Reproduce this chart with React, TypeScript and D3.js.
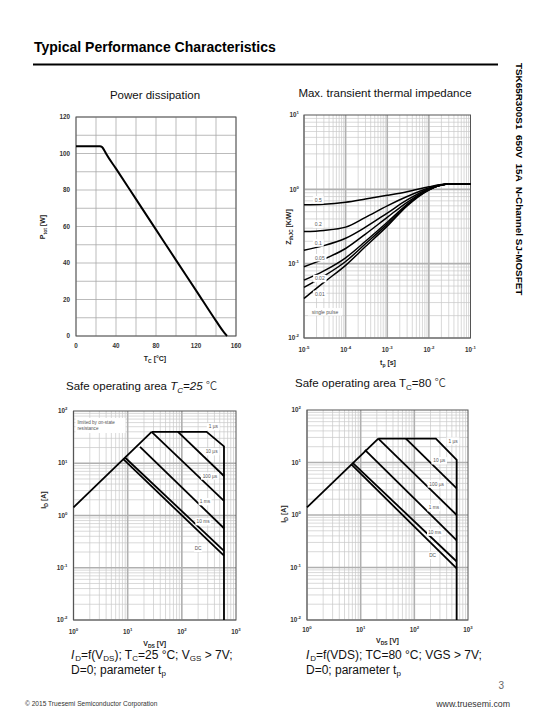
import React from "react";
import * as d3 from "d3";

const FONT = "'Liberation Sans', Arial, Helvetica, sans-serif";

// ---------- Power dissipation ----------
const tcValues = [0, 10, 20, 24, 26, 28, 30, 40, 60, 80, 100, 120, 140, 148, 151];
const ptotValues = [104, 104, 104, 104, 103.5, 102, 100, 91.7, 75, 58.3, 41.6, 25, 8.3, 2, 0];
const tcTicks = [0, 40, 80, 120, 160];
const ptotTicks = [0, 20, 40, 60, 80, 100, 120];

// ---------- Transient thermal impedance ----------
const tpValues = [1e-5, 3e-5, 1e-4, 3e-4, 1e-3, 3e-3, 1e-2, 2e-2, 3e-2, 1e-1];
const zthD05 = [0.62, 0.63, 0.67, 0.74, 0.83, 0.93, 1.08, 1.16, 1.18, 1.18];
const zthD02 = [0.27, 0.28, 0.31, 0.42, 0.6, 0.8, 1.04, 1.15, 1.18, 1.18];
const zthD01 = [0.152, 0.175, 0.22, 0.31, 0.48, 0.72, 1.02, 1.15, 1.18, 1.18];
const zthD005 = [0.091, 0.115, 0.16, 0.25, 0.42, 0.67, 1.0, 1.14, 1.18, 1.18];
const zthD002 = [0.06, 0.08, 0.12, 0.2, 0.36, 0.63, 0.99, 1.14, 1.18, 1.18];
const zthD001 = [0.048, 0.068, 0.107, 0.185, 0.34, 0.615, 0.985, 1.14, 1.18, 1.18];
const zthSingle = [0.034, 0.056, 0.095, 0.17, 0.32, 0.6, 0.98, 1.14, 1.18, 1.18];
const zthLabels = ["0.5", "0.2", "0.1", "0.05", "0.02", "0.01", "single pulse"];
const zthLabelT = [2.2e-5, 2.2e-5, 2.2e-5, 2.4e-5, 2.4e-5, 2.4e-5, 3.2e-5];
const zthLabelZ = [0.72, 0.34, 0.19, 0.12, 0.063, 0.0386, 0.0225];
const tpTicks = [1e-5, 1e-4, 1e-3, 1e-2, 1e-1];
const zthTicks = [1e-2, 1e-1, 1, 10];

// ---------- SOA Tc = 25 ----------
const soa25RdsV = [1, 27.7];
const soa25RdsI = [1.43, 40];
const soa25_1usV = [27.7, 287, 600, 600];
const soa25_1usI = [40, 40, 21, 0.01];
const soa25_10usV = [85, 600];
const soa25_10usI = [40, 5.7];
const soa25_100usV = [27.7, 600];
const soa25_100usI = [40, 1.9];
const soa25_1msV = [16.9, 600];
const soa25_1msI = [20.6, 0.57];
const soa25_10msV = [8.9, 600];
const soa25_10msI = [12.9, 0.21];
const soa25_DCV = [8.3, 600];
const soa25_DCI = [12, 0.17];
const soaLabels = ["1 µs", "10 µs", "100 µs", "1 ms", "10 ms", "DC"];
const soa25LabelV = [380, 355, 330, 268, 247, 200];
const soa25LabelI = [50, 16.6, 5.7, 1.84, 0.76, 0.235];

// ---------- SOA Tc = 80 ----------
const soa80RdsV = [1, 21.3];
const soa80RdsI = [1.4, 28.5];
const soa80_1usV = [21.3, 252, 615, 615];
const soa80_1usI = [28.5, 28.5, 11.2, 0.01];
const soa80_10usV = [69.6, 615];
const soa80_10usI = [28.5, 3.2];
const soa80_100usV = [21.3, 615];
const soa80_100usI = [28.5, 1.0];
const soa80_1msV = [12, 615];
const soa80_1msI = [17.4, 0.33];
const soa80_10msV = [7.1, 615];
const soa80_10msI = [9.8, 0.13];
const soa80_DCV = [6.7, 615];
const soa80_DCI = [9.2, 0.096];
const soa80LabelV = [525, 290, 260, 232, 240, 219];
const soa80LabelI = [25.7, 10.8, 3.9, 1.38, 0.47, 0.17];
const vdsTicks = [1, 10, 100, 1000];
const idTicks = [0.01, 0.1, 1, 10, 100];

type Sc = any;

function exp10(v: number) {
  return Math.round(Math.log10(v));
}

function Pow10({ x, y, v, anchor }: { x: number; y: number; v: number; anchor: string }) {
  return (
    <text x={x} y={y} fontSize={6.3} fontWeight="bold" fill="#333" textAnchor={anchor as any}>
      10<tspan dy={-2.8} fontSize={4.3}>{exp10(v)}</tspan>
    </text>
  );
}

function LogGrid({ x, y }: { x: Sc; y: Sc }) {
  const [xa, xb] = x.range();
  const [ya, yb] = y.range();
  const minor: any[] = [];
  const major: any[] = [];
  const xd = x.domain();
  const yd = y.domain();
  for (let e = exp10(xd[0]); e < exp10(xd[1]); e++) {
    for (let m = 1; m <= 9; m++) {
      const px = x(m * Math.pow(10, e));
      const el = <line key={`x${e}_${m}`} x1={px} x2={px} y1={ya} y2={yb} />;
      (m === 1 ? major : minor).push(el);
    }
  }
  for (let e = exp10(yd[0]); e < exp10(yd[1]); e++) {
    for (let m = 1; m <= 9; m++) {
      const py = y(m * Math.pow(10, e));
      const el = <line key={`y${e}_${m}`} x1={xa} x2={xb} y1={py} y2={py} />;
      (m === 1 ? major : minor).push(el);
    }
  }
  return (
    <g>
      <g stroke="#c9c9c9" strokeWidth={0.7}>{minor}</g>
      <g stroke="#b0b0b0" strokeWidth={1.6}>{major}</g>
    </g>
  );
}

function Frame({ x, y }: { x: Sc; y: Sc }) {
  const [xa, xb] = x.range();
  const [ya, yb] = y.range();
  return (
    <rect x={Math.min(xa, xb)} y={Math.min(ya, yb)} width={Math.abs(xb - xa)} height={Math.abs(yb - ya)} fill="none" stroke="#555" strokeWidth={1} />
  );
}

function BoxLabel({ x, y, text, fs = 5 }: { x: number; y: number; text: string; fs?: number }) {
  const w = text.length * fs * 0.52 + 3;
  const h = fs + 2.5;
  return (
    <g>
      <rect x={x - w / 2} y={y - h / 2} width={w} height={h} fill="#fff" />
      <text x={x} y={y + fs * 0.36} fontSize={fs} fill="#555" textAnchor="middle">{text}</text>
    </g>
  );
}

function PowerChart() {
  const x = d3.scaleLinear().domain([0, 160]).range([76, 236]);
  const y = d3.scaleLinear().domain([0, 120]).range([336, 117]);
  const line = d3
    .line<number>()
    .x((_, i) => x(tcValues[i]))
    .y((d) => y(d))
    .curve(d3.curveMonotoneX);
  const vg = d3.range(0, 161, 20);
  const hg = d3.range(0, 121, 10);
  return (
    <g>
      <text x={155} y={99} fontSize={11.5} textAnchor="middle" fill="#111">Power dissipation</text>
      <g stroke="#aaa" strokeWidth={0.8}>
        {vg.map((v) => (
          <line key={`v${v}`} x1={x(v)} x2={x(v)} y1={y(0)} y2={y(120)} />
        ))}
        {hg.map((v) => (
          <line key={`h${v}`} x1={x(0)} x2={x(160)} y1={y(v)} y2={y(v)} />
        ))}
      </g>
      <Frame x={x} y={y} />
      <path d={line(ptotValues) || ""} fill="none" stroke="#000" strokeWidth={2} />
      {ptotTicks.map((t) => (
        <text key={t} x={x(0) - 6} y={y(t) + 2.2} fontSize={6.3} fontWeight="bold" fill="#333" textAnchor="end">{t}</text>
      ))}
      {tcTicks.map((t) => (
        <text key={t} x={x(t)} y={348} fontSize={6.3} fontWeight="bold" fill="#333" textAnchor="middle">{t}</text>
      ))}
      <text transform={`translate(45,227) rotate(-90)`} fontSize={7} fontWeight="bold" fill="#222" textAnchor="middle">
        P<tspan fontSize={5} dy={1.5}>tot</tspan><tspan dy={-1.5}> [W]</tspan>
      </text>
      <text x={155} y={361} fontSize={7} fontWeight="bold" fill="#222" textAnchor="middle">
        T<tspan fontSize={5} dy={1.5}>C</tspan><tspan dy={-1.5}> [°C]</tspan>
      </text>
    </g>
  );
}

function ThermalChart() {
  const x = d3.scaleLog().domain([1e-5, 1e-1]).range([304, 470.5]);
  const y = d3.scaleLog().domain([1e-2, 10]).range([338, 115]);
  const line = d3
    .line<number>()
    .x((_, i) => x(tpValues[i]))
    .y((d) => y(d))
    .curve(d3.curveMonotoneX);
  const series = [zthD05, zthD02, zthD01, zthD005, zthD002, zthD001, zthSingle];
  return (
    <g>
      <text x={385} y={97} fontSize={11.5} textAnchor="middle" fill="#111">Max. transient thermal impedance</text>
      <LogGrid x={x} y={y} />
      <Frame x={x} y={y} />
      {series.map((s, i) => (
        <path key={i} d={line(s) || ""} fill="none" stroke="#000" strokeWidth={1.5} />
      ))}
      {zthLabels.map((l, i) => (
        <BoxLabel key={l} x={x(zthLabelT[i])} y={y(zthLabelZ[i])} text={l} fs={5} />
      ))}
      {zthTicks.map((t) => (
        <Pow10 key={t} x={x(1e-5) - 5} y={y(t) + 2.2} v={t} anchor="end" />
      ))}
      {tpTicks.map((t) => (
        <Pow10 key={t} x={x(t)} y={352} v={t} anchor="middle" />
      ))}
      <text transform={`translate(291,227) rotate(-90)`} fontSize={7} fontWeight="bold" fill="#222" textAnchor="middle">
        Z<tspan fontSize={5} dy={1.5}>thJC</tspan><tspan dy={-1.5}> [K/W]</tspan>
      </text>
      <text x={388} y={365} fontSize={7} fontWeight="bold" fill="#222" textAnchor="middle">
        t<tspan fontSize={5} dy={1.5}>p</tspan><tspan dy={-1.5}> [s]</tspan>
      </text>
    </g>
  );
}

type SoaProps = {
  xr: [number, number];
  yr: [number, number];
  curves: { v: number[]; i: number[] }[];
  labelV: number[];
  labelI: number[];
  showLimitBox: boolean;
  yTitleX: number;
  yTitleY: number;
  xTitleY: number;
  xTickY: number;
};

function SoaChart(p: SoaProps) {
  const x = d3.scaleLog().domain([1, 1000]).range(p.xr);
  const y = d3.scaleLog().domain([0.01, 100]).range(p.yr);
  const mk = (c: { v: number[]; i: number[] }) =>
    d3
      .line<number>()
      .x((_, k) => x(c.v[k]))
      .y((d) => y(d))(c.i) || "";
  const xMid = (p.xr[0] + p.xr[1]) / 2;
  return (
    <g>
      <LogGrid x={x} y={y} />
      <Frame x={x} y={y} />
      {p.curves.map((c, k) => (
        <path key={k} d={mk(c)} fill="none" stroke="#000" strokeWidth={1.8} strokeLinejoin="miter" />
      ))}
      {soaLabels.map((l, k) => (
        <BoxLabel key={l} x={x(p.labelV[k])} y={y(p.labelI[k])} text={l} fs={4.8} />
      ))}
      {p.showLimitBox && (
        <g>
          <rect x={x(1) + 2} y={y(100) + 7} width={50} height={15} fill="#fff" />
          <text x={x(1) + 4} y={y(100) + 13} fontSize={4.6} fill="#555">limited by on-state</text>
          <text x={x(1) + 4} y={y(100) + 19} fontSize={4.6} fill="#555">resistance</text>
        </g>
      )}
      {idTicks.map((t) => (
        <Pow10 key={t} x={x(1) - 6} y={y(t) + 2.2} v={t} anchor="end" />
      ))}
      {vdsTicks.map((t) => (
        <Pow10 key={t} x={x(t)} y={p.xTickY} v={t} anchor="middle" />
      ))}
      <text transform={`translate(${p.yTitleX},${p.yTitleY}) rotate(-90)`} fontSize={7} fontWeight="bold" fill="#222" textAnchor="middle">
        I<tspan fontSize={5} dy={1.5}>D</tspan><tspan dy={-1.5}> [A]</tspan>
      </text>
      <text x={xMid} y={p.xTitleY} fontSize={7} fontWeight="bold" fill="#222" textAnchor="middle">
        V<tspan fontSize={5} dy={1.5}>DS</tspan><tspan dy={-1.5}> [V]</tspan>
      </text>
    </g>
  );
}

export default function App() {
  const soa25Curves = [
    { v: soa25RdsV, i: soa25RdsI },
    { v: soa25_1usV, i: soa25_1usI },
    { v: soa25_10usV, i: soa25_10usI },
    { v: soa25_100usV, i: soa25_100usI },
    { v: soa25_1msV, i: soa25_1msI },
    { v: soa25_10msV, i: soa25_10msI },
    { v: soa25_DCV, i: soa25_DCI },
  ];
  const soa80Curves = [
    { v: soa80RdsV, i: soa80RdsI },
    { v: soa80_1usV, i: soa80_1usI },
    { v: soa80_10usV, i: soa80_10usI },
    { v: soa80_100usV, i: soa80_100usI },
    { v: soa80_1msV, i: soa80_1msI },
    { v: soa80_10msV, i: soa80_10msI },
    { v: soa80_DCV, i: soa80_DCI },
  ];
  return (
    <svg width={540} height={720} style={{ position: "absolute", left: 0, top: 0 }} fontFamily={FONT}>
      <rect x={0} y={0} width={540} height={720} fill="#fff" />
      <text x={34} y={52} fontSize={14} fontWeight="bold" fill="#000">Typical Performance Characteristics</text>
      <line x1={33} x2={498} y1={64.5} y2={64.5} stroke="#000" strokeWidth={2} />
      <text transform="translate(516,63) rotate(90)" fontSize={9.9} fontWeight="bold" fill="#000" style={{ whiteSpace: "pre" }}>
        {"TSK65R300S1  650V  15A  N-Channel SJ-MOSFET"}
      </text>

      <PowerChart />
      <ThermalChart />

      <text x={66} y={390} fontSize={11.5} fill="#111">
        Safe operating area <tspan fontStyle="italic">T</tspan>
        <tspan fontStyle="italic" fontSize={8} dy={2.5}>C</tspan>
        <tspan fontStyle="italic" dy={-2.5}>=25 </tspan>
        <tspan fontFamily="'Noto Sans CJK SC', sans-serif" fontWeight={300}>℃</tspan>
      </text>
      <SoaChart
        xr={[73.5, 236]}
        yr={[620, 411]}
        curves={soa25Curves}
        labelV={soa25LabelV}
        labelI={soa25LabelI}
        showLimitBox={true}
        yTitleX={46}
        yTitleY={500}
        xTitleY={646}
        xTickY={634}
      />

      <text x={295} y={387} fontSize={11.5} fill="#111">
        Safe operating area T<tspan fontSize={8} dy={2.5}>C</tspan>
        <tspan dy={-2.5}>=80 </tspan>
        <tspan fontFamily="'Noto Sans CJK SC', sans-serif" fontWeight={300}>℃</tspan>
      </text>
      <SoaChart
        xr={[307, 468]}
        yr={[620, 410]}
        curves={soa80Curves}
        labelV={soa80LabelV}
        labelI={soa80LabelI}
        showLimitBox={false}
        yTitleX={286}
        yTitleY={514}
        xTitleY={643}
        xTickY={632}
      />

      <text x={71} y={658.5} fontSize={12} fill="#111">
        <tspan fontStyle="italic">I</tspan>
        <tspan fontSize={8} dx={0.8} dy={2}>D</tspan>
        <tspan dy={-2}>=f(V</tspan>
        <tspan fontSize={8} dy={2}>DS</tspan>
        <tspan dy={-2}>); T</tspan>
        <tspan fontSize={8} dy={2}>C</tspan>
        <tspan dy={-2}>=25 °C; V</tspan>
        <tspan fontSize={8} dy={2}>GS</tspan>
        <tspan dy={-2}> &gt; 7V;</tspan>
      </text>
      <text x={71} y={673.5} fontSize={12} fill="#111">
        D=0; parameter t<tspan fontSize={8} dy={2}>p</tspan>
      </text>
      <text x={306} y={658.5} fontSize={12} fill="#111">
        <tspan fontStyle="italic">I</tspan>
        <tspan fontSize={8} dx={0.8} dy={2}>D</tspan>
        <tspan dy={-2}>=f(VDS); TC=80 °C; VGS &gt; 7V;</tspan>
      </text>
      <text x={306} y={673.5} fontSize={12} fill="#111">
        D=0; parameter t<tspan fontSize={8} dy={2}>p</tspan>
      </text>

      <text x={504} y={689} fontSize={10} fill="#666" textAnchor="end">3</text>
      <text x={25} y={706} fontSize={6.6} fill="#333">© 2015  Truesemi  Semiconductor Corporation</text>
      <text x={510} y={707} fontSize={8.8} fill="#333" textAnchor="end">www.truesemi.com</text>
    </svg>
  );
}
